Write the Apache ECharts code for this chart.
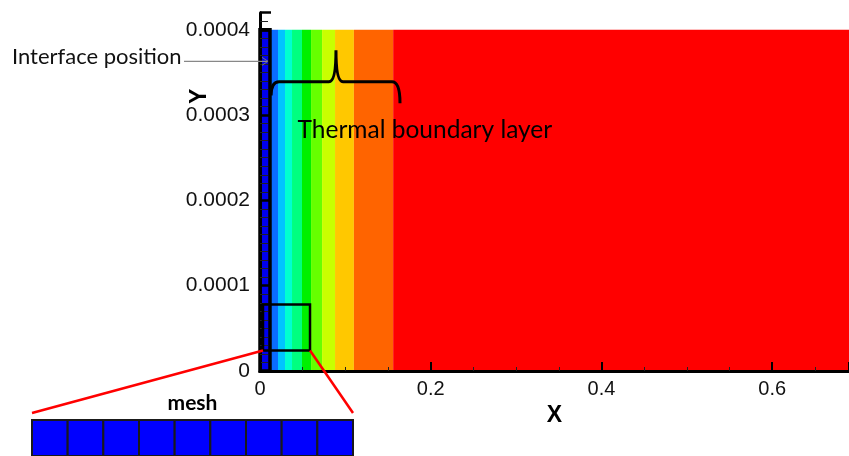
<!DOCTYPE html>
<html>
<head>
<meta charset="UTF-8">
<title></title>
<style>html,body{margin:0;padding:0;background:#fff;}</style>
</head>
<body>
<div id="main" style="width:849px;height:456px;"></div>
<script src="https://cdn.jsdelivr.net/npm/echarts@6/dist/echarts.min.js"></script>
<script>
// contour bands on the liquid side: right edge of each band (x)
var bandEdges = [0.0117, 0.0211, 0.0293, 0.0375, 0.0492, 0.0598, 0.0727, 0.0879, 0.110, 0.156, 0.69];
var bandColors = ['#0a6cff', '#00c4ff', '#00ffd0', '#00ff80', '#00f000', '#66ff00', '#c8ff00', '#ffc800', '#ff6400', '#ff0000'];
// solid phase strip (left of the interface)
var solidSpan = [0, 0.0117];
var domainTop = 0.0004;
var xMax = 0.69, yMax = 0.00042;
// annotations, in data units
var interfaceY = 0.000363;
var braceX = [0.013, 0.089, 0.164];      // left end, peak, right end
var braceY = [0.000323, 0.000339, 0.000376, 0.000314]; // left hook, base, peak, right hook
var zoomBox = [0.0035, 0.0586, 0.000024, 0.000078]; // x0, x1, y0, y1
var meshCells = [0, 1, 2, 3, 4, 5, 6, 7, 8];
var labelInterface = 'Interface position';
var labelLayer = 'Thermal boundary layer';
var labelMesh = 'mesh';

var bandData = [];
for (var i = 0; i < bandEdges.length - 1; i++) {
    bandData.push([bandEdges[i], bandEdges[i + 1], i]);
}

var myChart = echarts.init(document.getElementById('main'));

var option = {
    animation: false,
    grid: [
        { left: 260, right: 0, top: 12.7, bottom: 85 },
        { left: 32, top: 420, width: 321, height: 45 }
    ],
    xAxis: [{
        type: 'value', min: 0, max: xMax, interval: 0.2, z: 10,
        name: 'X', nameLocation: 'middle', nameGap: 28,
        nameTextStyle: { color: '#000', fontSize: 23, fontWeight: 'bold', fontFamily: 'Liberation Sans' },
        axisLine: { lineStyle: { color: '#000', width: 3 } },
        axisTick: { inside: true, length: 9, lineStyle: { color: '#000', width: 2 } },
        minorTick: { show: true, splitNumber: 4, length: 4, lineStyle: { color: '#222', width: 1 } },
        splitLine: { show: false },
        axisLabel: {
            margin: 8, showMaxLabel: false, color: '#111', fontSize: 20, fontFamily: 'Liberation Sans',
            formatter: function (v) { return v === 0 ? '0' : v.toFixed(1); }
        }
    }, {
        gridIndex: 1, type: 'value', min: 0, max: meshCells.length, show: false
    }],
    yAxis: [{
        type: 'value', min: 0, max: yMax, interval: 0.0001, z: 10,
        axisLine: { lineStyle: { color: '#000', width: 3 } },
        axisTick: { inside: true, length: 11, lineStyle: { color: '#000', width: 2.5 } },
        minorTick: { show: true, splitNumber: 10, length: 8, lineStyle: { color: '#222', width: 1 } },
        splitLine: { show: false },
        axisLabel: {
            margin: 10, showMaxLabel: false, color: '#111', fontSize: 21, fontFamily: 'Liberation Sans',
            formatter: function (v) { return v === 0 ? '0' : v.toFixed(4); }
        }
    }, {
        gridIndex: 1, type: 'value', min: 0, max: 1, show: false
    }],
    series: [
        {
            // liquid contour bands
            type: 'custom', clip: true, z: 2,
            data: bandData,
            renderItem: function (params, api) {
                var p0 = api.coord([api.value(0), domainTop]);
                var p1 = api.coord([api.value(1), 0]);
                return {
                    type: 'rect',
                    shape: { x: p0[0], y: p0[1], width: p1[0] - p0[0], height: p1[1] - p0[1] },
                    style: { fill: bandColors[api.value(2)] }
                };
            }
        },
        {
            // solid strip with the interface outline
            type: 'custom', clip: false, z: 3,
            data: [solidSpan],
            renderItem: function (params, api) {
                var p0 = api.coord([api.value(0), domainTop]);
                var p1 = api.coord([api.value(1), 0]);
                return {
                    type: 'rect',
                    shape: { x: p0[0], y: p0[1], width: p1[0] - p0[0], height: p1[1] - p0[1] },
                    style: { fill: '#0000ee', stroke: '#000', lineWidth: 3.5 }
                };
            }
        },
        {
            // zoom box and brace
            type: 'custom', clip: false, z: 20,
            data: [zoomBox],
            renderItem: function (params, api) {
                var a = api.coord([zoomBox[0], zoomBox[3]]);
                var b = api.coord([zoomBox[1], zoomBox[2]]);
                var L = api.coord([braceX[0], braceY[0]]);
                var B = api.coord([braceX[0], braceY[1]]);
                var P = api.coord([braceX[1], braceY[2]]);
                var R = api.coord([braceX[2], braceY[3]]);
                var yb = B[1];
                var d = 'M' + L[0] + ',' + L[1] +
                    ' Q' + L[0] + ',' + yb + ' ' + (L[0] + 8) + ',' + yb +
                    ' L' + (P[0] - 7) + ',' + yb +
                    ' Q' + P[0] + ',' + yb + ' ' + P[0] + ',' + P[1] +
                    ' Q' + P[0] + ',' + yb + ' ' + (P[0] + 7) + ',' + yb +
                    ' L' + (R[0] - 8) + ',' + yb +
                    ' Q' + R[0] + ',' + yb + ' ' + R[0] + ',' + R[1];
                return {
                    type: 'group',
                    children: [{
                        type: 'rect',
                        shape: { x: a[0], y: a[1], width: b[0] - a[0], height: b[1] - a[1] },
                        style: { fill: 'none', stroke: '#000', lineWidth: 2.5 }
                    }, {
                        type: 'path',
                        shape: { pathData: d },
                        style: { fill: 'none', stroke: '#000', lineWidth: 3 }
                    }]
                };
            }
        },
        {
            // mesh inset cells
            type: 'custom', xAxisIndex: 1, yAxisIndex: 1, clip: false,
            data: meshCells,
            renderItem: function (params, api) {
                var c = api.value(0);
                var p0 = api.coord([c, 1]);
                var p1 = api.coord([c + 1, 0]);
                return {
                    type: 'rect',
                    shape: { x: p0[0], y: p0[1], width: p1[0] - p0[0], height: p1[1] - p0[1] },
                    style: { fill: '#0000ff', stroke: '#1a1a1a', lineWidth: 2 }
                };
            }
        }
    ]
};
myChart.setOption(option);

// text labels and leader lines, placed from the axes
var px = function (pt) { return myChart.convertToPixel({ gridIndex: 0 }, pt); };
var ip = px([solidSpan[1], interfaceY]);
var boxBL = px([zoomBox[0], zoomBox[2]]);
var boxBR = px([zoomBox[1], zoomBox[2]]);
var insetL = myChart.convertToPixel({ gridIndex: 1 }, [0, 1]);
var insetR = myChart.convertToPixel({ gridIndex: 1 }, [meshCells.length, 1]);
var layerPos = px([0.044, 0.000282]);
var yNamePos = px([0, 0.000322]);
var textFont = 'Lato';

myChart.setOption({
    graphic: [
        {
            type: 'text', x: 12, y: ip[1] - 4, z: 30,
            style: { text: labelInterface, fill: '#111', font: '22px ' + textFont, verticalAlign: 'middle' }
        },
        {
            type: 'line', z: 30,
            shape: { x1: 184, y1: ip[1], x2: ip[0] - 2, y2: ip[1] },
            style: { stroke: '#888', lineWidth: 1.2 }
        },
        {
            type: 'polyline', z: 30,
            shape: { points: [[ip[0] - 8, ip[1] - 4], [ip[0] - 2, ip[1]], [ip[0] - 8, ip[1] + 4]] },
            style: { stroke: '#777', fill: 'none', lineWidth: 1 }
        },
        {
            type: 'text', x: layerPos[0], y: layerPos[1], z: 30,
            style: { text: labelLayer, fill: '#000', font: '24.5px ' + textFont, verticalAlign: 'middle' }
        },
        {
            type: 'text', x: yNamePos[0] - 60, y: yNamePos[1], rotation: Math.PI / 2, z: 30,
            style: { text: 'Y', fill: '#000', font: 'bold 23px Liberation Sans', align: 'center', verticalAlign: 'middle' }
        },
        {
            type: 'line', z: 30,
            shape: { x1: boxBL[0], y1: boxBL[1], x2: insetL[0], y2: insetL[1] - 7 },
            style: { stroke: '#ff0000', lineWidth: 2.5 }
        },
        {
            type: 'line', z: 30,
            shape: { x1: boxBR[0], y1: boxBR[1], x2: insetR[0], y2: insetR[1] - 7 },
            style: { stroke: '#ff0000', lineWidth: 2.5 }
        },
        {
            type: 'text', x: (insetL[0] + insetR[0]) / 2, y: insetL[1] - 17, z: 30,
            style: { text: labelMesh, fill: '#000', font: 'bold 21px ' + textFont, align: 'center', verticalAlign: 'middle' }
        }
    ]
});
</script>
</body>
</html>
